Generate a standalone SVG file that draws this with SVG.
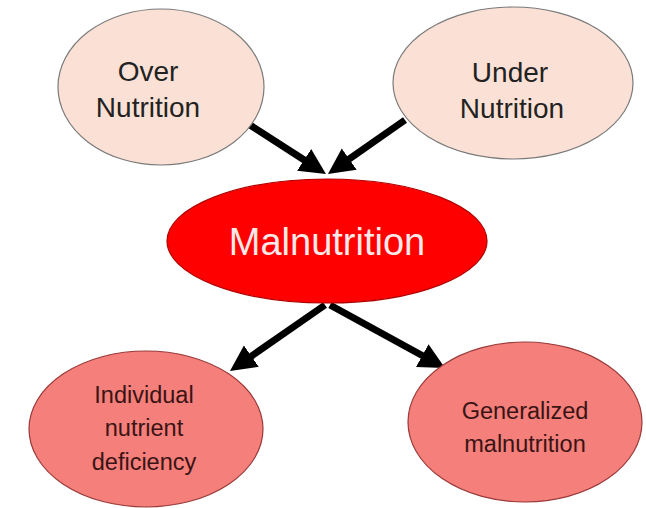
<svg xmlns="http://www.w3.org/2000/svg" width="646" height="508" viewBox="0 0 646 508">
  <defs>
    <marker id="head" markerUnits="userSpaceOnUse" markerWidth="30" markerHeight="30" viewBox="0 -15 30 30" refX="2" refY="0" orient="auto">
      <path d="M0,-13 L26,0 L0,13 z" fill="#000"/>
    </marker>
    <style>
      .cause { fill: #FBE1D5; stroke: #7A7A7A; stroke-width: 1.2; }
      .core { fill: #FF0000; stroke: #B00000; stroke-width: 1.2; }
      .effect { fill: #F47F7B; stroke: #9A3A3A; stroke-width: 1.2; }
      .link { stroke: #000; stroke-width: 7; fill: none; marker-end: url(#head); }
      text { font-family: "Liberation Sans", Arial, sans-serif; text-anchor: middle; }
      .t-cause { font-size: 28px; fill: #222; }
      .t-core { font-size: 38px; fill: #FBE8E8; }
      .t-effect { font-size: 23.5px; fill: #3A1414; }
    </style>
  </defs>
  <rect width="646" height="508" fill="#fff"/>

  <g id="connectors">
    <line class="link" x1="250" y1="125" x2="305.8" y2="161"/>
    <line class="link" x1="405" y1="120" x2="347.6" y2="160.2"/>
    <line class="link" x1="325" y1="305" x2="249.7" y2="357.3"/>
    <line class="link" x1="330" y1="305" x2="424" y2="356.5"/>
  </g>

  <g id="over-nutrition">
    <ellipse class="cause" cx="161" cy="87" rx="103" ry="78"/>
    <text class="t-cause" x="148" y="81">Over</text>
    <text class="t-cause" x="148" y="117">Nutrition</text>
  </g>

  <g id="under-nutrition">
    <ellipse class="cause" cx="513" cy="83" rx="120" ry="76"/>
    <text class="t-cause" x="510" y="82">Under</text>
    <text class="t-cause" x="512" y="118">Nutrition</text>
  </g>

  <g id="malnutrition">
    <ellipse class="core" cx="327" cy="241" rx="160" ry="62"/>
    <text class="t-core" x="327" y="255">Malnutrition</text>
  </g>

  <g id="individual-deficiency">
    <ellipse class="effect" cx="146" cy="429" rx="117" ry="78"/>
    <text class="t-effect" x="144" y="403">Individual</text>
    <text class="t-effect" x="144" y="436">nutrient</text>
    <text class="t-effect" x="144" y="470">deficiency</text>
  </g>

  <g id="generalized-malnutrition">
    <ellipse class="effect" cx="525" cy="422" rx="117" ry="80"/>
    <text class="t-effect" x="525" y="419">Generalized</text>
    <text class="t-effect" x="525" y="452">malnutrition</text>
  </g>
</svg>
